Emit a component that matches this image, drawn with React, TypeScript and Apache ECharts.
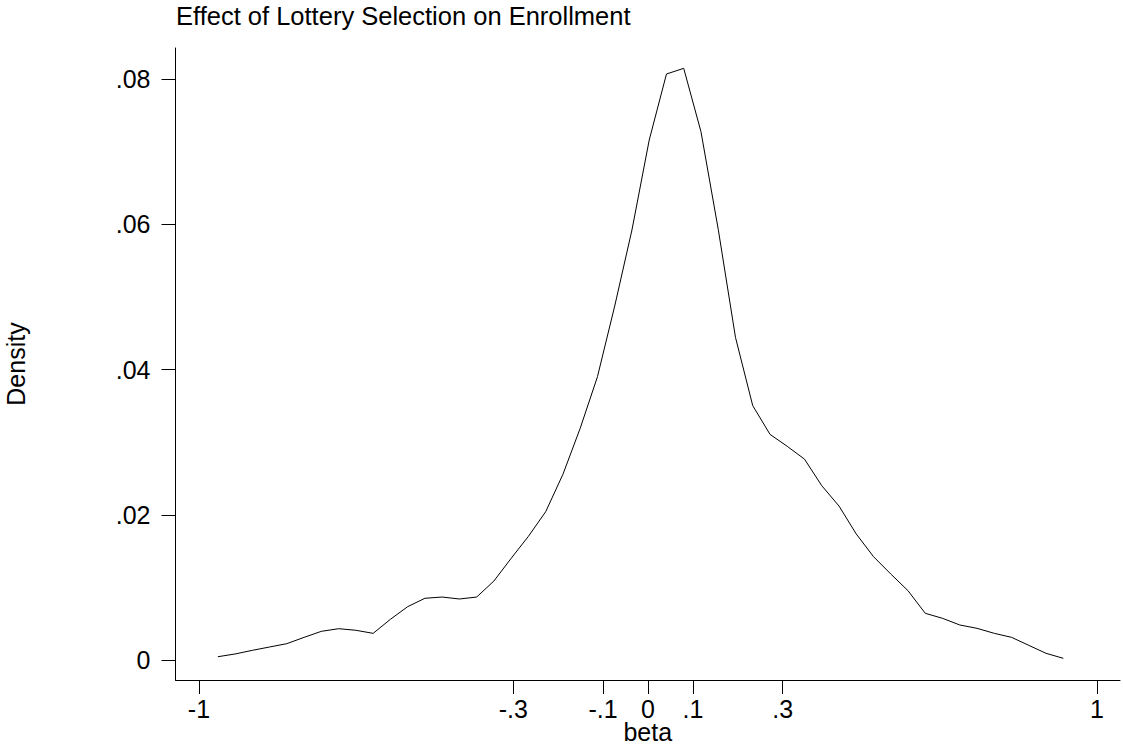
import React, { useEffect, useRef } from "react";
import * as echarts from "echarts";

// Evaluation points (beta) of the kernel density estimate
const betaPoints: number[] = [
  -0.958, -0.9196, -0.8811, -0.8427, -0.8043, -0.7658, -0.7274, -0.689, -0.6506, -0.6121,
  -0.5737, -0.5353, -0.4968, -0.4584, -0.42, -0.3815, -0.3431, -0.3047, -0.2663, -0.2278,
  -0.1894, -0.151, -0.1125, -0.0741, -0.0357, 0.0028, 0.0412, 0.0796, 0.118, 0.1565,
  0.1949, 0.2333, 0.2718, 0.3102, 0.3486, 0.3871, 0.4255, 0.4639, 0.5023, 0.5408,
  0.5792, 0.6176, 0.6561, 0.6945, 0.7329, 0.7714, 0.8098, 0.8482, 0.8866, 0.9251,
];

// Density values at those points
const densityValues: number[] = [
  0.00045, 0.00083, 0.00133, 0.00179, 0.00225, 0.00312, 0.00395, 0.00431, 0.00409, 0.00367,
  0.0056, 0.00734, 0.0085, 0.00867, 0.0084, 0.00867, 0.01088, 0.014, 0.01703, 0.02042,
  0.02557, 0.0319, 0.03901, 0.04874, 0.05921, 0.0716, 0.08069, 0.08147, 0.07275, 0.0593,
  0.04443, 0.03502, 0.03107, 0.02942, 0.02766, 0.024, 0.0212, 0.01735, 0.01423, 0.01184,
  0.00954, 0.00643, 0.00574, 0.00482, 0.00436, 0.00367, 0.00312, 0.00202, 0.00092, 0.00023,
];

const xTicks: number[] = [-1, -0.3, -0.1, 0, 0.1, 0.3, 1];
const yTicks: number[] = [0, 0.02, 0.04, 0.06, 0.08];

const titleText = "Effect of Lottery Selection on Enrollment";
const xName = "beta";
const yName = "Density";

const FONT = "'Liberation Sans', Arial, Helvetica, sans-serif";

const fmt = (v: number) => {
  const r = Math.round(v * 1000) / 1000;
  if (r === 0) return "0";
  return String(r).replace(/^(-?)0\./, "$1.");
};

export default function App() {
  const ref = useRef<HTMLDivElement>(null);
  useEffect(() => {
    if (!ref.current) return;
    const chart = echarts.init(ref.current, undefined, { renderer: "svg" });
    const axisLineStyle = { color: "#000", width: 1 };
    chart.setOption({
      animation: false,
      backgroundColor: "#fff",
      textStyle: { fontFamily: FONT },
      title: {
        text: titleText,
        left: 176,
        top: 3,
        padding: 0,
        textStyle: { fontSize: 25.5, fontWeight: "normal", color: "#000", fontFamily: FONT },
      },
      grid: {
        left: 175.5,
        right: 3,
        top: 48,
        bottom: 67,
        containLabel: false,
        outerBoundsMode: "none",
      },
      xAxis: {
        type: "value",
        min: -1.0523,
        max: 1.0513,
        name: xName,
        nameLocation: "middle",
        nameGap: 52,
        nameMoveOverlap: false,
        nameTextStyle: {
          fontSize: 25,
          lineHeight: 25,
          verticalAlign: "middle",
          color: "#000",
          fontFamily: FONT,
        },
        axisLine: { show: true, onZero: false, lineStyle: axisLineStyle },
        axisTick: { show: true, customValues: xTicks, length: 14, lineStyle: axisLineStyle },
        axisLabel: {
          customValues: xTicks,
          formatter: (v: number) => fmt(v),
          fontSize: 25,
          color: "#000",
          margin: 16,
          fontFamily: FONT,
        },
        splitLine: { show: false },
      },
      yAxis: {
        type: "value",
        min: -0.002754,
        max: 0.08427,
        name: yName,
        nameLocation: "middle",
        nameGap: 147,
        nameRotate: 90,
        nameMoveOverlap: false,
        nameTextStyle: { fontSize: 25, color: "#000", fontFamily: FONT },
        axisLine: { show: true, onZero: false, lineStyle: axisLineStyle },
        axisTick: { show: true, customValues: yTicks, length: 14, lineStyle: axisLineStyle },
        axisLabel: {
          customValues: yTicks,
          formatter: (v: number) => fmt(v),
          fontSize: 25,
          color: "#000",
          margin: 25,
          fontFamily: FONT,
        },
        splitLine: { show: false },
      },
      series: [
        {
          type: "line",
          data: betaPoints.map((b, i) => [b, densityValues[i]]),
          showSymbol: false,
          lineStyle: { color: "#000", width: 1 },
          clip: false,
        },
      ],
    });
    return () => chart.dispose();
  }, []);
  return (
    <div
      ref={ref}
      style={{ position: "fixed", left: 0, top: 0, width: 1123, height: 747, background: "#fff" }}
    />
  );
}
